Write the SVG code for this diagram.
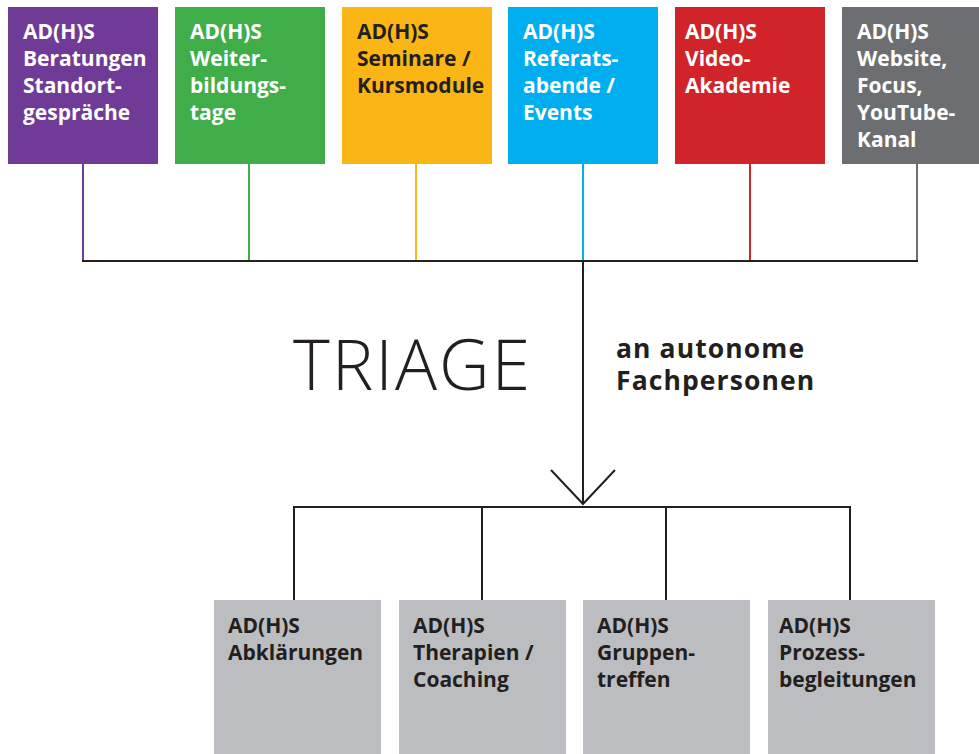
<svg xmlns="http://www.w3.org/2000/svg" width="979" height="754" viewBox="0 0 979 754">
<style>
  .lbl { font-family: "Open Sans", "Liberation Sans", sans-serif; font-weight: 700; font-size: 21px; }
  .w { fill: #ffffff; }
  .d { fill: #231f20; }
  .conn { fill: none; stroke-width: 2; }
  .blk { stroke: #231f20; }
  .triage { font-family: "Open Sans", "Liberation Sans", sans-serif; font-weight: 300; font-size: 70px; letter-spacing: 2px; fill: #231f20; }
  .sub { font-family: "Open Sans", "Liberation Sans", sans-serif; font-weight: 700; font-size: 26.5px; letter-spacing: 1.1px; fill: #231f20; }
</style>
<rect width="979" height="754" fill="#ffffff"/>

<g id="connectors">
  <line class="conn" stroke="#6f3b96" x1="83" y1="163" x2="83" y2="261"/>
  <line class="conn" stroke="#3fae49" x1="249" y1="163" x2="249" y2="261"/>
  <line class="conn" stroke="#fbb615" x1="416" y1="163" x2="416" y2="261"/>
  <line class="conn" stroke="#00aeef" x1="583" y1="163" x2="583" y2="261"/>
  <line class="conn" stroke="#d1232a" x1="750" y1="163" x2="750" y2="261"/>
  <line class="conn" stroke="#6d6e71" x1="917" y1="163" x2="917" y2="261"/>
  <line class="conn blk" x1="82" y1="261" x2="918" y2="261"/>
  <line class="conn blk" x1="583" y1="261" x2="583" y2="504"/>
  <polyline class="conn blk" points="551,470 583,504 615,470"/>
  <polyline class="conn blk" points="294,600 294,507 850,507 850,600"/>
  <line class="conn blk" x1="482" y1="507" x2="482" y2="600"/>
  <line class="conn blk" x1="666" y1="507" x2="666" y2="600"/>
</g>

<g id="top-beratungen">
  <rect x="8" y="7" width="150" height="157" fill="#6f3b96"/>
  <text class="lbl w"><tspan x="23" y="38.5">AD(H)S</tspan><tspan x="23" y="65.5">Beratungen</tspan><tspan x="23" y="92.5">Standort-</tspan><tspan x="23" y="119.5">gespräche</tspan></text>
</g>
<g id="top-weiterbildung">
  <rect x="175" y="7" width="150" height="157" fill="#3fae49"/>
  <text class="lbl w"><tspan x="190" y="38.5">AD(H)S</tspan><tspan x="190" y="65.5">Weiter-</tspan><tspan x="190" y="92.5">bildungs-</tspan><tspan x="190" y="119.5">tage</tspan></text>
</g>
<g id="top-seminare">
  <rect x="342" y="7" width="150" height="157" fill="#fbb615"/>
  <text class="lbl d"><tspan x="357" y="38.5">AD(H)S</tspan><tspan x="357" y="65.5">Seminare /</tspan><tspan x="357" y="92.5">Kursmodule</tspan></text>
</g>
<g id="top-referate">
  <rect x="508" y="7" width="150" height="157" fill="#00aeef"/>
  <text class="lbl w"><tspan x="523" y="38.5">AD(H)S</tspan><tspan x="523" y="65.5">Referats-</tspan><tspan x="523" y="92.5">abende /</tspan><tspan x="523" y="119.5">Events</tspan></text>
</g>
<g id="top-video">
  <rect x="675" y="7" width="150" height="157" fill="#d1232a"/>
  <text class="lbl w"><tspan x="685" y="38.5">AD(H)S</tspan><tspan x="685" y="65.5">Video-</tspan><tspan x="685" y="92.5">Akademie</tspan></text>
</g>
<g id="top-website">
  <rect x="842" y="7" width="150" height="157" fill="#6d6e71"/>
  <text class="lbl w"><tspan x="857" y="38.5">AD(H)S</tspan><tspan x="857" y="65.5">Website,</tspan><tspan x="857" y="92.5">Focus,</tspan><tspan x="857" y="119.5">YouTube-</tspan><tspan x="857" y="146.5">Kanal</tspan></text>
</g>

<g id="triage">
  <text class="triage" x="293" y="390">TRIAGE</text>
  <text class="sub"><tspan x="616" y="358">an autonome</tspan><tspan x="616" y="390">Fachpersonen</tspan></text>
</g>

<g id="bottom-abklaerungen">
  <rect x="214" y="600" width="167" height="154" fill="#bcbdc0"/>
  <text class="lbl d"><tspan x="228" y="633">AD(H)S</tspan><tspan x="228" y="660">Abklärungen</tspan></text>
</g>
<g id="bottom-therapien">
  <rect x="399" y="600" width="167" height="154" fill="#bcbdc0"/>
  <text class="lbl d"><tspan x="413" y="633">AD(H)S</tspan><tspan x="413" y="660">Therapien /</tspan><tspan x="413" y="687">Coaching</tspan></text>
</g>
<g id="bottom-gruppen">
  <rect x="583" y="600" width="167" height="154" fill="#bcbdc0"/>
  <text class="lbl d"><tspan x="597" y="633">AD(H)S</tspan><tspan x="597" y="660">Gruppen-</tspan><tspan x="597" y="687">treffen</tspan></text>
</g>
<g id="bottom-prozess">
  <rect x="768" y="600" width="167" height="154" fill="#bcbdc0"/>
  <text class="lbl d"><tspan x="779" y="633">AD(H)S</tspan><tspan x="779" y="660">Prozess-</tspan><tspan x="779" y="687">begleitungen</tspan></text>
</g>
</svg>
